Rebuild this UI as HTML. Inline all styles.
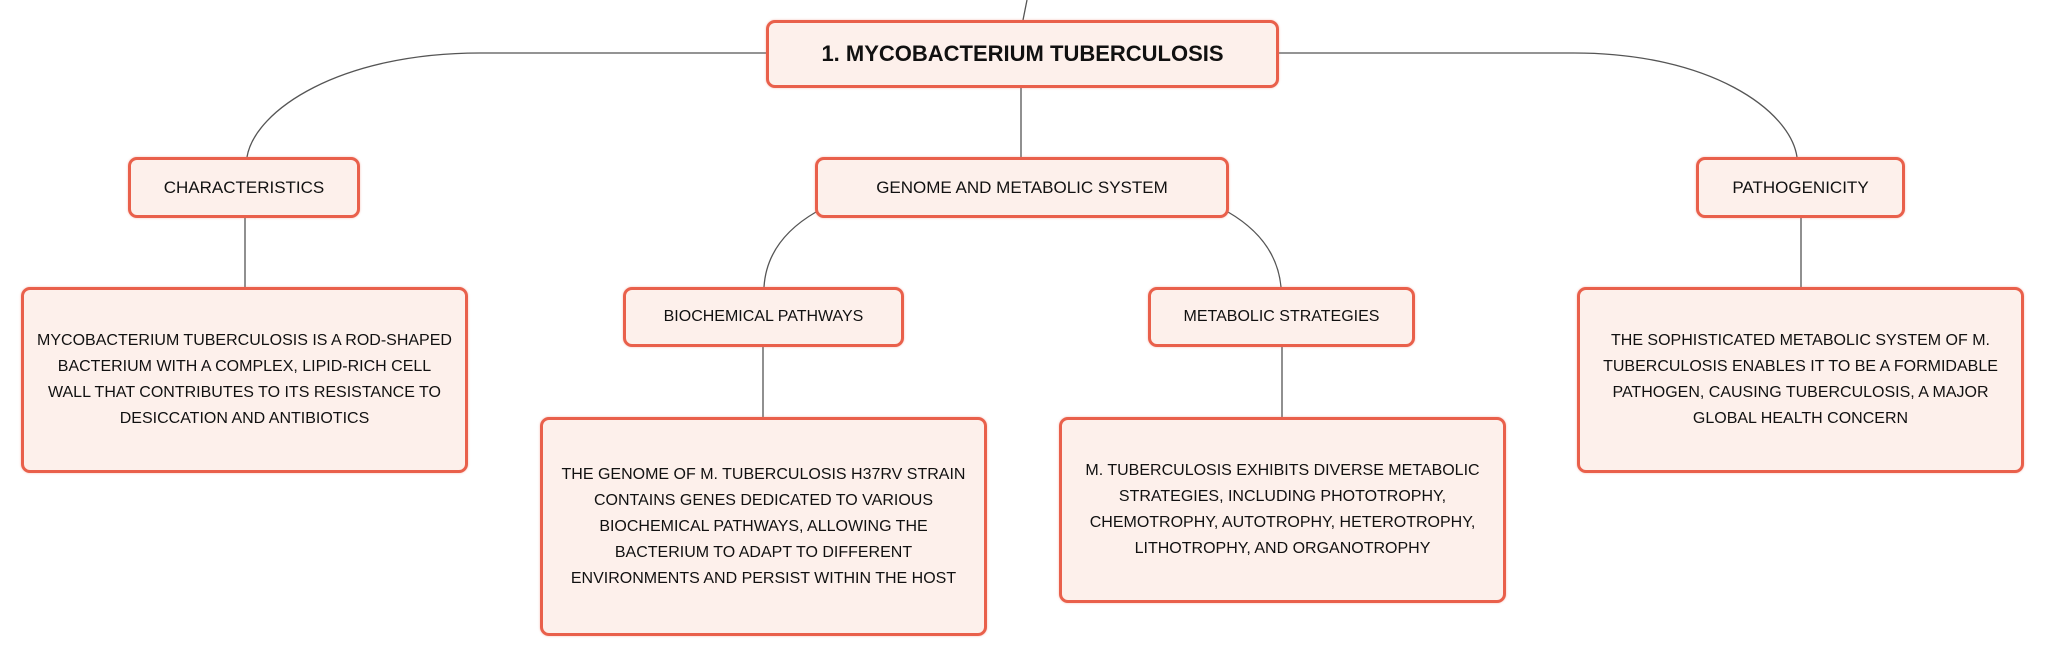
<!DOCTYPE html>
<html><head><meta charset="utf-8"><style>
html,body{margin:0;padding:0;background:#fff;}
body{width:2046px;height:656px;position:relative;overflow:hidden;font-family:"Liberation Sans",sans-serif;color:#111;}
.b{position:absolute;box-sizing:border-box;border:3px solid #e9604b;border-radius:9px;background:#fdf0eb;display:flex;align-items:center;justify-content:center;text-align:center;font-size:16px;line-height:26px;box-shadow:0 0 2px rgba(233,96,75,.4);}
.r{font-weight:bold;font-size:22px;}
svg{position:absolute;left:0;top:0;}
</style></head><body>
<svg width="2046" height="656" fill="none" stroke="#555" stroke-width="1.3">
<path d="M1027 0 Q1025 10 1023 20"/>
<path d="M766 53 L480 53 C340 53 255 110 247 157"/>
<path d="M1279 53 L1574 53 C1710 53 1790 110 1797 157"/>
<path d="M1021 88 L1021 157"/>
<path d="M816 212 C785 230 766 255 764 287"/>
<path d="M1228 212 C1259 230 1278 255 1281 287"/>
<path d="M245 218 L245 287"/>
<path d="M763 347 L763 417"/>
<path d="M1282 347 L1282 417"/>
<path d="M1801 218 L1801 287"/>
</svg>
<div class="b r" style="left:766px;top:20px;width:513px;height:68px;">1. MYCOBACTERIUM TUBERCULOSIS</div>
<div class="b" style="left:128px;top:157px;width:232px;height:61px;font-size:17px;">CHARACTERISTICS</div>
<div class="b" style="left:815px;top:157px;width:414px;height:61px;font-size:17px;">GENOME AND METABOLIC SYSTEM</div>
<div class="b" style="left:1696px;top:157px;width:209px;height:61px;font-size:17px;">PATHOGENICITY</div>
<div class="b" style="left:21px;top:287px;width:447px;height:186px;">MYCOBACTERIUM TUBERCULOSIS IS A ROD-SHAPED<br>BACTERIUM WITH A COMPLEX, LIPID-RICH CELL<br>WALL THAT CONTRIBUTES TO ITS RESISTANCE TO<br>DESICCATION AND ANTIBIOTICS</div>
<div class="b" style="left:623px;top:287px;width:281px;height:60px;">BIOCHEMICAL PATHWAYS</div>
<div class="b" style="left:1148px;top:287px;width:267px;height:60px;">METABOLIC STRATEGIES</div>
<div class="b" style="left:540px;top:417px;width:447px;height:219px;">THE GENOME OF M. TUBERCULOSIS H37RV STRAIN<br>CONTAINS GENES DEDICATED TO VARIOUS<br>BIOCHEMICAL PATHWAYS, ALLOWING THE<br>BACTERIUM TO ADAPT TO DIFFERENT<br>ENVIRONMENTS AND PERSIST WITHIN THE HOST</div>
<div class="b" style="left:1059px;top:417px;width:447px;height:186px;">M. TUBERCULOSIS EXHIBITS DIVERSE METABOLIC<br>STRATEGIES, INCLUDING PHOTOTROPHY,<br>CHEMOTROPHY, AUTOTROPHY, HETEROTROPHY,<br>LITHOTROPHY, AND ORGANOTROPHY</div>
<div class="b" style="left:1577px;top:287px;width:447px;height:186px;">THE SOPHISTICATED METABOLIC SYSTEM OF M.<br>TUBERCULOSIS ENABLES IT TO BE A FORMIDABLE<br>PATHOGEN, CAUSING TUBERCULOSIS, A MAJOR<br>GLOBAL HEALTH CONCERN</div>
</body></html>
